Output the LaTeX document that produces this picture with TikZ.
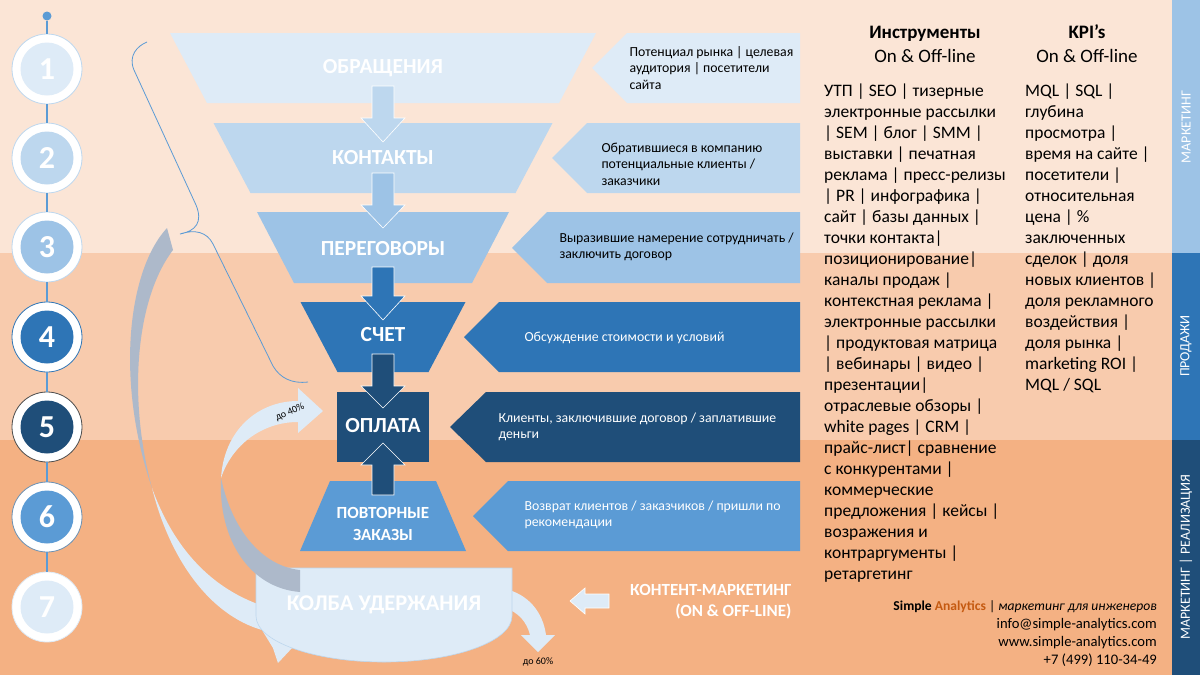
\documentclass[tikz,border=0pt]{standalone}
\usepackage{fontspec}
\setmainfont{Carlito}
\usetikzlibrary{positioning,calc}

\definecolor{bgtop}{HTML}{FBE5D6}
\definecolor{bgmid}{HTML}{F8CBAD}
\definecolor{bgbot}{HTML}{F4B183}
\definecolor{blueA}{HTML}{DEEBF7}
\definecolor{blueB}{HTML}{BDD7EE}
\definecolor{blueC}{HTML}{9DC3E6}
\definecolor{blueD}{HTML}{2E75B6}
\definecolor{blueE}{HTML}{1F4E79}
\definecolor{blueF}{HTML}{5B9BD5}
\definecolor{backgray}{HTML}{ADB9CA}
\definecolor{brandorange}{HTML}{C55A11}

\begin{document}
\begin{tikzpicture}[x=1pt, y=-1pt]
    % Define styles
    \tikzset{
        stage/.style={text=white, font=\bfseries\fontsize{21.5}{23}\selectfont, align=center},
        note/.style={anchor=west, align=left, font=\fontsize{13.8}{16.5}\selectfont},
        ring/.style={circle, draw=blueB, fill=white, line width=0.8pt, minimum size=70pt, inner sep=0pt},
        disc/.style={circle, minimum size=53pt, inner sep=0pt, text=white, font=\bfseries\fontsize{32}{32}\selectfont},
        blockarrow/.style={draw=white, line width=0.6pt},
        colbody/.style={anchor=north west, align=left, inner sep=0pt, font=\fontsize{17.5}{21}\selectfont},
        sidelabel/.style={rotate=90, text=white, font=\fontsize{14}{16}\selectfont},
        small/.style={font=\fontsize{10}{12}\selectfont}
    }

    % Background bands and side bar
    \fill[bgtop] (0,0) rectangle (1172,253);
    \fill[bgmid] (0,253) rectangle (1172,440);
    \fill[bgbot] (0,440) rectangle (1172,675);
    \fill[blueC] (1172,0) rectangle (1200,253);
    \fill[blueD] (1172,253) rectangle (1200,440);
    \fill[blueE] (1172,440) rectangle (1200,675);
    \useasboundingbox (0,0) rectangle (1200,675);
    \node[sidelabel] (side1) at (1186,127) {МАРКЕТИНГ};
    \node[sidelabel] (side2) at (1186,346) {ПРОДАЖИ};
    \node[sidelabel] (side3) at (1186,557) {МАРКЕТИНГ | РЕАЛИЗАЦИЯ};

    % Numbered steps
    \node[circle, fill=blueF, minimum size=9pt, inner sep=0pt] (pin) at (47,16) {};
    \node[ring] (r1) at (47,69) {};
    \node[ring] (r2) at (47,158) {};
    \node[ring] (r3) at (47,247) {};
    \node[ring, draw=blueD] (r4) at (47,337) {};
    \node[ring, draw=black!70] (r5) at (47,427) {};
    \node[ring, draw=blueF!60!gray] (r6) at (47,517) {};
    \node[ring, draw=blueA] (r7) at (47,607) {};
    \node[disc, fill=blueA] (d1) at (r1) {1};
    \node[disc, fill=blueB] (d2) at (r2) {2};
    \node[disc, fill=blueC] (d3) at (r3) {3};
    \node[disc, fill=blueD] (d4) at (r4) {4};
    \node[disc, fill=blueE] (d5) at (r5) {5};
    \node[disc, fill=blueF] (d6) at (r6) {6};
    \node[disc, fill=blueA] (d7) at (r7) {7};
    \draw[blueF, line width=1.5pt] (pin) -- (r1) (r1) -- (r2) (r2) -- (r3) (r3) -- (r4)
        (r4) -- (r5) (r5) -- (r6) (r6) -- (r7);

    % Brace over the first stages
    \draw[blueF, line width=0.8pt] (147,42) .. controls (137,46) and (128,56) .. (134,70) -- (196,205)
        .. controls (203,222) and (196,231) .. (180,234) .. controls (195,229) and (207,232) .. (213,244)
        -- (273,366) .. controls (280,378) and (292,384) .. (308,382);

    % Long return arrow (back side gray)
    \fill[backgray] (167,228) .. controls (128,270) and (115,380) .. (152,488)
        .. controls (128,400) and (135,300) .. (173,250) -- cycle;
    \fill[blueA] (152,488) .. controls (170,560) and (210,615) .. (262,630) -- (273,648) -- (278,663)
        -- (293,647) -- (300,632) -- (286,612) .. controls (225,600) and (178,560) .. (152,488) -- cycle;

    % Arrow out of the flask
    \fill[blueA] (505,589) .. controls (528,594) and (543,612) .. (546,635) -- (555,635) -- (538,652)
        -- (521,635) -- (530,635) .. controls (527,622) and (518,612) .. (505,608) -- cycle;

    % Flask
    \draw[blueB, fill=blueA, line width=0.6pt] (256,568) -- (256,616)
        arc[start angle=180, end angle=0, x radius=128, y radius=46] -- (512,568) -- cycle;

    % Arrow back to payment
    \fill[backgray] (221,478) .. controls (218,540) and (250,588) .. (300,592)
        -- (300,570) .. controls (262,566) and (232,530) .. (221,478) -- cycle;
    \fill[blueA] (221,478) .. controls (224,430) and (258,401) .. (298,401)
        -- (298,388) -- (323,411) -- (298,433) -- (298,422)
        .. controls (262,422) and (232,445) .. (221,478) -- cycle;

    % Funnel
    \fill[blueA] (170,33) -- (596,33) -- (559,103) -- (207,103) -- cycle;
    \fill[blueB] (213.5,123) -- (552.5,123) -- (515.5,193) -- (250.5,193) -- cycle;
    \fill[blueC] (257,212) -- (509,212) -- (472,283) -- (294,283) -- cycle;
    \fill[blueD] (300.5,302) -- (465.5,302) -- (428.5,372) -- (337.5,372) -- cycle;
    \fill[blueE] (337,392) rectangle (429,462);
    \fill[blueF] (330,481) -- (436,481) -- (466,551) -- (300,551) -- cycle;

    % Side notes
    \fill[blueA] (592,68) -- (627,33) -- (800,33) -- (800,103) -- (627,103) -- cycle;
    \fill[blueB] (552,158) -- (587,123) -- (800,123) -- (800,193) -- (587,193) -- cycle;
    \fill[blueC] (512,248) -- (547,212) -- (800,212) -- (800,283) -- (547,283) -- cycle;
    \fill[blueD] (464,337) -- (499,302) -- (800,302) -- (800,372) -- (499,372) -- cycle;
    \fill[blueE] (450,427) -- (486,392) -- (800,392) -- (800,462) -- (486,462) -- cycle;
    \fill[blueF] (473,516) -- (508,481) -- (800,481) -- (800,551) -- (508,551) -- cycle;

    % Block arrows between stages
    \fill[blueB, blockarrow] (372,86) -- ++(22,0) -- ++(0,32) -- ++(11,0) -- ++(-22,24) -- ++(-22,-24) -- ++(11,0) -- cycle;
    \fill[blueC, blockarrow] (372,173) -- ++(22,0) -- ++(0,32) -- ++(11,0) -- ++(-22,23) -- ++(-22,-23) -- ++(11,0) -- cycle;
    \fill[blueD, blockarrow] (372,267) -- ++(22,0) -- ++(0,29) -- ++(11,0) -- ++(-22,24) -- ++(-22,-24) -- ++(11,0) -- cycle;
    \fill[blueE, blockarrow] (372,354) -- ++(22,0) -- ++(0,32) -- ++(11,0) -- ++(-22,22) -- ++(-22,-22) -- ++(11,0) -- cycle;
    \fill[blueE, blockarrow] (372,495) -- ++(22,0) -- ++(0,-30) -- ++(11,0) -- ++(-22,-22) -- ++(-22,22) -- ++(11,0) -- cycle;
    \fill[blueA, blockarrow] (570,601) -- (585,588) -- (585,594) -- (609,594) -- (609,608) -- (585,608) -- (585,614) -- cycle;

    % Stage labels
    \node[stage] (obr) at (383,68) {ОБРАЩЕНИЯ};
    \node[stage] (kont) at (383,158) {КОНТАКТЫ};
    \node[stage] (pereg) at (383,249) {ПЕРЕГОВОРЫ};
    \node[stage] (schet) at (383,335) {СЧЕТ};
    \node[stage] (opl) at (383,426) {ОПЛАТА};
    \node[stage, font=\bfseries\fontsize{17}{22}\selectfont] (povt) at (383,524) {ПОВТОРНЫЕ\\ЗАКАЗЫ};
    \node[stage, font=\bfseries\fontsize{22.5}{24}\selectfont] (kolba) at (384,605) {КОЛБА УДЕРЖАНИЯ};

    % Note texts
    \node[note] (note1) at (626,68) {Потенциал рынка | целевая\\аудитория | посетители\\сайта};
    \node[note] (note2) at (598,164) {Обратившиеся в компанию\\потенциальные клиенты /\\заказчики};
    \node[note] (note3) at (556,247) {Выразившие намерение сотрудничать /\\заключить договор};
    \node[note, text=white] (note4) at (521,338) {Обсуждение стоимости и условий};
    \node[note, text=white] (note5) at (495,427) {Клиенты, заключившие договор / заплатившие\\деньги};
    \node[note, text=white] (note6) at (521,515) {Возврат клиентов / заказчиков / пришли по\\рекомендации};

    % Percent labels and content marketing
    \node[small, rotate=24] (p40) at (290,412) {до 40\%};
    \node[small] (p60) at (538,662) {до 60\%};
    \node[anchor=east, align=right, text=white, font=\bfseries\fontsize{17}{21}\selectfont] (cm) at (795,602) {КОНТЕНТ-МАРКЕТИНГ\\(ON \& OFF-LINE)};

    % Columns
    \node[align=center, font=\fontsize{19}{24}\selectfont] (toolhead) at (925,44) {\textbf{Инструменты}\\On \& Off-line};
    \node[align=center, font=\fontsize{19}{24}\selectfont] (kpihead) at (1087,44) {\textbf{KPI’s}\\On \& Off-line};
    \node[colbody] (tools) at (824,84) {УТП | SEO | тизерные\\
        электронные рассылки\\
        | SEM | блог | SMM |\\
        выставки | печатная\\
        реклама | пресс-релизы\\
        | PR | инфографика |\\
        сайт | базы данных |\\
        точки контакта|\\
        позиционирование|\\
        каналы продаж |\\
        контекстная реклама |\\
        электронные рассылки\\
        | продуктовая матрица\\
        | вебинары | видео |\\
        презентации|\\
        отраслевые обзоры |\\
        white pages | CRM |\\
        прайс-лист| сравнение\\
        с конкурентами |\\
        коммерческие\\
        предложения | кейсы |\\
        возражения и\\
        контраргументы |\\
        ретаргетинг};
    \node[colbody] (kpis) at (1025,84) {MQL | SQL |\\
        глубина\\
        просмотра |\\
        время на сайте |\\
        посетители |\\
        относительная\\
        цена | \%\\
        заключенных\\
        сделок | доля\\
        новых клиентов |\\
        доля рекламного\\
        воздействия |\\
        доля рынка |\\
        marketing ROI |\\
        MQL / SQL};

    % Signature
    \node[anchor=north east, align=right, inner sep=0pt, font=\fontsize{14.6}{18}\selectfont] (sign) at (1157,600)
        {{\fontsize{13.6}{18}\selectfont\textbf{Simple} \textbf{\textcolor{brandorange}{Analytics}} | \textit{маркетинг для инженеров}}\\
        info@simple-analytics.com\\
        www.simple-analytics.com\\
        +7 (499) 110-34-49};
\end{tikzpicture}
\end{document}
